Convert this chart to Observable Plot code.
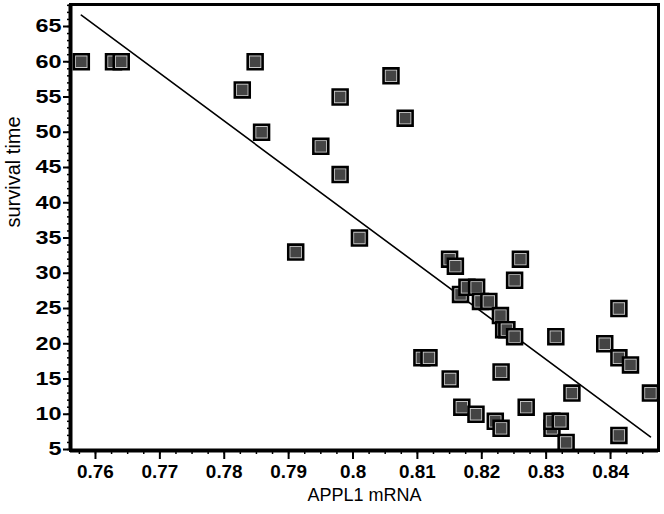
<!DOCTYPE html>
<html><head><meta charset="utf-8">
<script src="https://cdn.jsdelivr.net/npm/d3@7"></script>
<script src="https://cdn.jsdelivr.net/npm/@observablehq/plot@0.6"></script>
<style>body{margin:0;background:#fff}</style>
</head><body><div id="chart"></div>
<script>
const mrna = [0.7578,0.7628,0.7640,0.7828,0.7848,0.7858,0.7911,0.7950,0.7980,0.7980,0.8010,0.8059,0.8081,0.8107,0.8118,0.8150,0.8151,0.8159,0.8167,0.8169,0.8177,0.8191,0.8192,0.8198,0.8211,0.8221,0.8229,0.8230,0.8230,0.8234,0.8239,0.8251,0.8251,0.8260,0.8269,0.8309,0.8309,0.8315,0.8322,0.8331,0.8340,0.8391,0.8413,0.8413,0.8413,0.8431,0.8462];
const survival = [60,60,60,56,60,50,33,48,55,44,35,58,52,18,18,32,15,31,27,11,28,10,28,26,26,9,24,16,8,22,22,21,29,32,11,8,9,21,9,6,13,20,25,18,7,17,13];
const xTicks = [0.76,0.77,0.78,0.79,0.80,0.81,0.82,0.83,0.84];
const xTickLabels = ["0.76","0.77","0.78","0.79","0.8","0.81","0.82","0.83","0.84"];
const yTicks = [5,10,15,20,25,30,35,40,45,50,55,60,65];
const yTickLabels = ["5","10","15","20","25","30","35","40","45","50","55","60","65"];
const xTitle = "APPL1 mRNA";
const yTitle = "survival time";

const xDomain = [0.75612, 0.84745];
const yDomain = [4.86, 68.12];
const points = mrna.map((x, i) => ({x, y: survival[i]}));
const xMinor = d3.range(0.7575, 0.8475, 0.0025).filter(v => v >= xDomain[0] && v <= xDomain[1]);
const yMinor = d3.range(5, 69, 1);

const pointMarks = points.flatMap(p => [
  Plot.dot([p], {x: "x", y: "y", symbol: "square", r: 8.4, fill: "#d2d2d2", stroke: "#000", strokeWidth: 2.6}),
  Plot.dot([p], {x: "x", y: "y", symbol: "square", r: 6.0, fill: "#444"})
]);

const chart = Plot.plot({
  width: 664, height: 514,
  marginLeft: 70, marginRight: 6, marginTop: 4, marginBottom: 64,
  style: {fontFamily: "'Liberation Sans', Arial, sans-serif", background: "#fff", color: "#000"},
  x: {domain: xDomain},
  y: {domain: yDomain},
  marks: [
    Plot.axisX({ticks: xMinor, tickSize: 4, strokeWidth: 1.5, text: null, label: null}),
    Plot.axisX({ticks: xTicks, tickSize: 9, strokeWidth: 2, tickPadding: 6, tickFormat: (d, i) => xTickLabels[i], fontSize: 18, label: null}),
    Plot.axisY({ticks: yMinor, tickSize: 3, strokeWidth: 1.5, text: null, label: null}),
    Plot.axisY({ticks: yTicks, tickSize: 7, strokeWidth: 2, tickPadding: 2, tickFormat: (d, i) => yTickLabels[i], fontSize: 18, label: null}),
    Plot.frame({stroke: "#000", strokeWidth: 3}),
    Plot.ruleX([xDomain[0]], {stroke: "#000", strokeWidth: 4}),
    Plot.ruleY([yDomain[0]], {stroke: "#000", strokeWidth: 4}),
    Plot.linearRegressionY(points, {x: "x", y: "y", ci: 0, stroke: "#000", strokeWidth: 1.6}),
    ...pointMarks,
    Plot.text([xTitle], {frameAnchor: "bottom", dy: 50, fontSize: 18, fill: "#000"}),
    Plot.text([yTitle], {frameAnchor: "left", rotate: -90, dx: -57, fontSize: 20, fill: "#000"})
  ]
});
chart.querySelectorAll('g[aria-label$="tick label"]').forEach(g => {
  g.style.fontWeight = "bold";
});
chart.querySelectorAll('g[aria-label="y-axis tick label"] text').forEach(t => {
  const tr = t.getAttribute("transform") || "";
  t.setAttribute("transform", tr + " scale(1.3,1)");
});
chart.querySelectorAll('g[aria-label="x-axis tick label"] text').forEach(t => {
  const tr = t.getAttribute("transform") || "";
  t.setAttribute("transform", tr + " scale(1.05,1)");
});
document.getElementById("chart").append(chart);
</script>
</body></html>
